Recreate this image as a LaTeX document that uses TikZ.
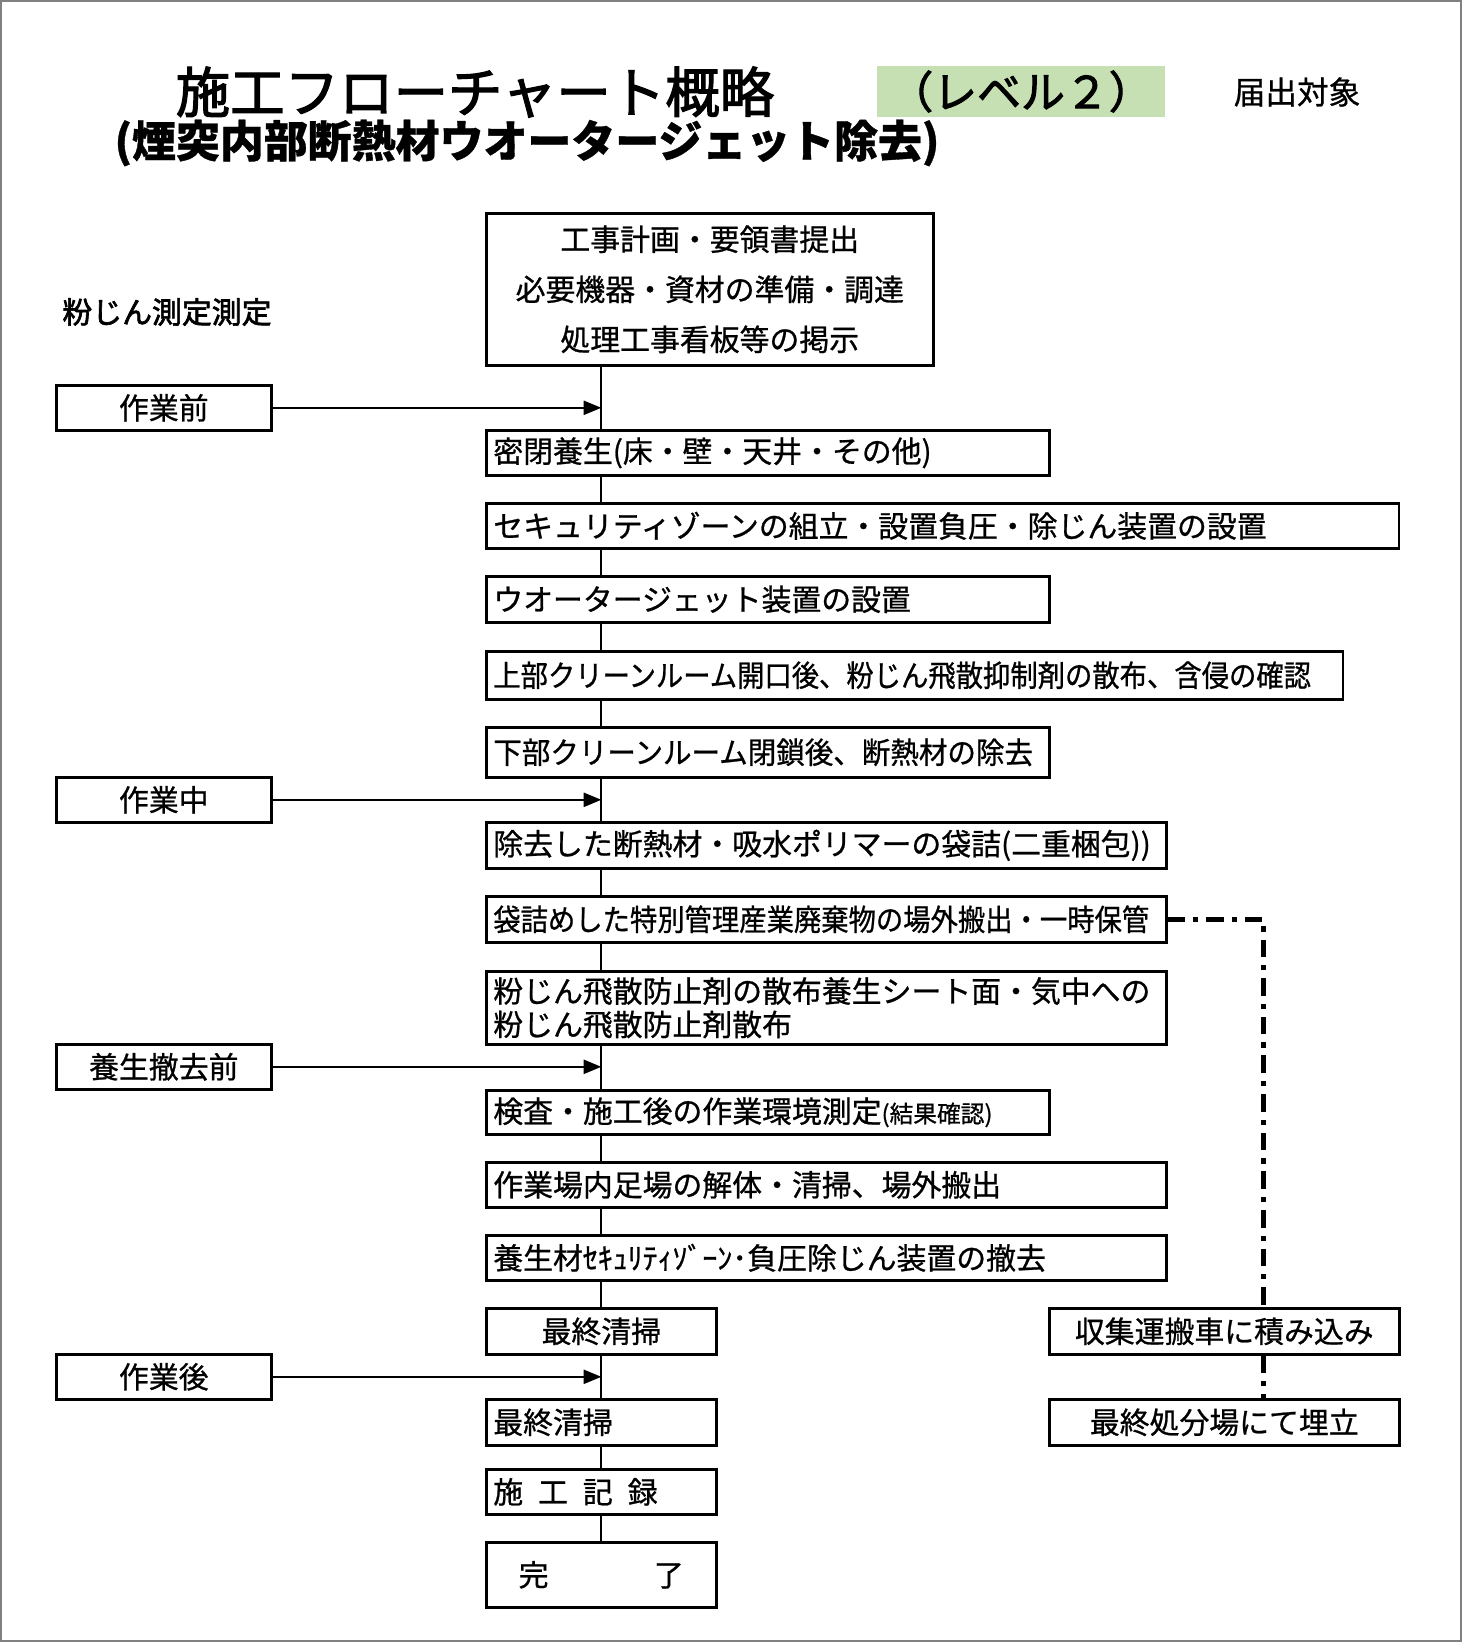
\documentclass[tikz,border=0pt]{standalone}
\usepackage{fontspec}
\setmainfont{Noto Sans CJK JP}[FakeBold=0.8]
\newfontfamily\narrowjp{Noto Sans CJK JP}[FakeStretch=0.915, FakeBold=0.8]
\newfontfamily\slimjp{Noto Sans CJK JP}[FakeStretch=0.955, FakeBold=0.8]
\newfontfamily\headjp{Noto Sans CJK JP}[FakeBold=2.2]
\usetikzlibrary{arrows.meta, positioning}

\definecolor{levelgreen}{RGB}{198,224,180}
\definecolor{framegray}{RGB}{128,128,128}

\tikzset{
  flowbox/.style={draw, line width=1.5pt, fill=white, anchor=north west, inner xsep=0.14cm, inner ysep=0pt, align=left, font=\fontsize{17pt}{20pt}\selectfont},
  centerbox/.style={draw, line width=1.5pt, fill=white, anchor=north west, inner sep=0pt, align=center, font=\fontsize{17pt}{20pt}\selectfont},
  phasebox/.style={draw, line width=1.5pt, anchor=north west, minimum width=4.3cm, minimum height=0.9cm, inner sep=0pt, font=\fontsize{17pt}{20pt}\selectfont},
  flowline/.style={line width=1.3pt},
  phasearrow/.style={line width=1.1pt, -{Triangle[length=10pt, width=8pt]}},
  wasteline/.style={line width=2.6pt, dash pattern=on 10pt off 4.5pt on 3pt off 4.5pt}
}

\begin{document}
\begin{tikzpicture}[x=0.02cm, y=-0.02cm]

    \useasboundingbox (0,0) rectangle (1462,1642);

    % Frame
    \draw[framegray, line width=1.2pt] (1,1) rectangle (1461,1641);

    % Title
    \node[font=\headjp\fontsize{31pt}{36pt}\selectfont] (title) at (475,92) {施工フローチャート概略};
    \node[fill=levelgreen, minimum width=5.76cm, minimum height=1.02cm, inner sep=0pt, font=\headjp\fontsize{25pt}{28pt}\selectfont] (level) at (1021,91.5) {（レベル２）};
    \node[font=\fontsize{18pt}{22pt}\selectfont] (todoke) at (1297,92) {届出対象};
    \node[font=\bfseries\fontsize{25pt}{30pt}\selectfont] (subtitle) at (527,143) {(煙突内部断熱材ウオータージェット除去)};
    \node[font=\headjp\fontsize{17pt}{20pt}\selectfont] (sokutei) at (167,312) {粉じん測定測定};

    % Main flow
    \node[centerbox, minimum width=8.94cm, minimum height=3.04cm, font=\fontsize{17pt}{28.5pt}\selectfont] (keikaku) at (485,212)
        {工事計画・要領書提出\\必要機器・資材の準備・調達\\処理工事看板等の掲示};
    \node[flowbox, text width=10.98cm, minimum height=0.9cm] (mippei) at (485,429) {密閉養生(床・壁・天井・その他)};
    \node[flowbox, text width=17.98cm, minimum height=0.9cm] (security) at (485,502) {セキュリティゾーンの組立・設置負圧・除じん装置の設置};
    \node[flowbox, text width=10.98cm, minimum height=0.92cm] (wj) at (485,575) {ウオータージェット装置の設置};
    \node[flowbox, text width=16.86cm, minimum height=0.96cm, font=\narrowjp\fontsize{17pt}{20pt}\selectfont] (joubu) at (485,650) {上部クリーンルーム開口後、粉じん飛散抑制剤の散布、含侵の確認};
    \node[flowbox, text width=10.98cm, minimum height=1.0cm, font=\slimjp\fontsize{17pt}{20pt}\selectfont] (kabu) at (485,726) {下部クリーンルーム閉鎖後、断熱材の除去};
    \node[flowbox, text width=13.32cm, minimum height=0.92cm] (jokyo) at (485,821) {除去した断熱材・吸水ポリマーの袋詰(二重梱包))};
    \node[flowbox, text width=13.32cm, minimum height=0.92cm, font=\narrowjp\fontsize{17pt}{20pt}\selectfont] (fukuro) at (485,895) {袋詰めした特別管理産業廃棄物の場外搬出・一時保管};
    \node[flowbox, text width=13.32cm, minimum height=1.46cm, font=\fontsize{17pt}{19pt}\selectfont] (hisan) at (485,970)
        {粉じん飛散防止剤の散布養生シート面・気中への\\粉じん飛散防止剤散布};
    \node[flowbox, text width=10.98cm, minimum height=0.88cm] (kensa) at (485,1089) {検査・施工後の作業環境測定{\fontsize{13.5pt}{16pt}\selectfont(結果確認)}};
    \node[flowbox, text width=13.32cm, minimum height=0.9cm] (ashiba) at (485,1161) {作業場内足場の解体・清掃、場外搬出};
    \node[flowbox, text width=13.32cm, minimum height=0.9cm] (yojozai) at (485,1234) {養生材ｾｷｭﾘﾃｨｿﾞｰﾝ･負圧除じん装置の撤去};
    \node[centerbox, minimum width=4.6cm, minimum height=0.92cm] (seisou) at (485,1307) {最終清掃};
    \node[flowbox, text width=4.32cm, minimum height=0.92cm] (seisouB) at (485,1398) {最終清掃};
    \node[flowbox, text width=4.32cm, minimum height=0.9cm] (kiroku) at (485,1468) {施\hspace{0.5em}工\hspace{0.5em}記\hspace{0.5em}録};
    \node[centerbox, minimum width=4.6cm, minimum height=1.3cm] (kanryo) at (485,1541) {完\hspace{60pt}了};

    % Waste route
    \node[centerbox, minimum width=7cm, minimum height=0.92cm] (shushu) at (1048,1307) {収集運搬車に積み込み};
    \node[centerbox, minimum width=7cm, minimum height=0.92cm] (shobun) at (1048,1398) {最終処分場にて埋立};

    % Phases
    \node[phasebox] (mae) at (55,384) {作業前};
    \node[phasebox] (chu) at (55,776) {作業中};
    \node[phasebox] (tekkyo) at (55,1043) {養生撤去前};
    \node[phasebox] (go) at (55,1353) {作業後};

    % Connectors
    \foreach \a/\b in {keikaku/mippei, mippei/security, security/wj, wj/joubu, joubu/kabu, kabu/jokyo, jokyo/fukuro, fukuro/hisan, hisan/kensa, kensa/ashiba, ashiba/yojozai, yojozai/seisou, seisou/seisouB, seisouB/kiroku, kiroku/kanryo}
        \draw[flowline] (\a.south -| kanryo.north) -- (\b.north -| kanryo.north);

    \foreach \p in {mae, chu, tekkyo, go}
        \draw[phasearrow] (\p.east) -- (\p.east -| kanryo.north);

    \draw[wasteline] (fukuro.east) -| ([xshift=0.78cm]shushu.north);
    \draw[wasteline] ([xshift=0.78cm]shushu.south) -- ([xshift=0.78cm]shobun.north);

\end{tikzpicture}
\end{document}
